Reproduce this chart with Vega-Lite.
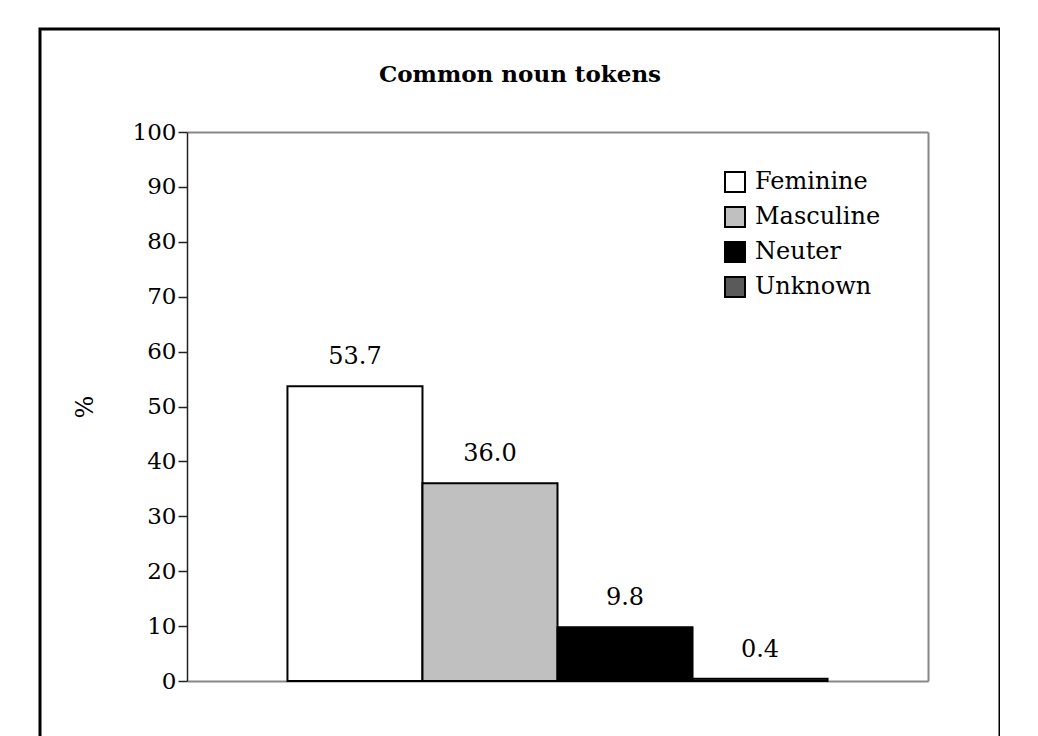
{
  "$schema": "https://vega.github.io/schema/vega-lite/v6.json",
  "width": 960,
  "height": 720,
  "autosize": {"type": "none"},
  "padding": {"left": 40, "top": 29, "right": 0, "bottom": 0},
  "background": "white",
  "config": {"view": {"stroke": "black", "strokeWidth": 3}, "font": "DejaVu Serif"},
  "title": {"text": "Common noun tokens", "font": "DejaVu Serif", "fontSize": 23, "fontWeight": "bold", "anchor": "middle", "offset": -58, "color": "black"},
  "data": {"values": [
    {"gender": "Feminine", "pct": 53.7},
    {"gender": "Masculine", "pct": 36.0},
    {"gender": "Neuter", "pct": 9.8},
    {"gender": "Unknown", "pct": 0.4}
  ]},
  "resolve": {"axis": {"x": "independent", "y": "independent"}},
  "layer": [
    {
      "mark": {"type": "bar", "stroke": "black", "strokeWidth": 2, "opacity": 1},
      "encoding": {
        "x": {"field": "gender", "type": "nominal", "sort": null,
          "scale": {"range": [147, 888], "paddingInner": 0, "paddingOuter": 0.744},
          "axis": {"orient": "bottom", "offset": -68, "labels": false, "ticks": false, "title": null, "domainColor": "#888888", "domainWidth": 2, "grid": false}},
        "y": {"field": "pct", "type": "quantitative",
          "scale": {"domain": [0, 100], "range": [652, 103], "nice": false},
          "axis": {"orient": "left", "offset": -147, "values": [0, 10, 20, 30, 40, 50, 60, 70, 80, 90, 100], "grid": false,
            "domainColor": "#222222", "domainWidth": 1.5, "tickColor": "#222222", "tickWidth": 1.5, "tickSize": 9,
            "labelFont": "DejaVu Serif", "labelFontSize": 23, "labelColor": "black", "labelPadding": 2,
            "title": "%", "titleFont": "DejaVu Serif", "titleFontSize": 24, "titleFontWeight": "normal", "titleColor": "black", "titlePadding": 35}},
        "color": {"field": "gender", "type": "nominal", "sort": null,
          "scale": {"domain": ["Feminine", "Masculine", "Neuter", "Unknown"],
            "range": ["#ffffff", "#c0c0c0", "#000000", "#5a5a5a"]},
          "legend": {"orient": "none", "legendX": 683, "legendY": 141, "title": null,
            "labelFont": "DejaVu Serif", "labelFontSize": 24, "labelColor": "black", "labelOffset": 8,
            "symbolType": "square", "symbolSize": 400, "symbolStrokeColor": "black", "symbolStrokeWidth": 2, "symbolOpacity": 1, "rowPadding": 7,
            "encode": {"symbols": {"update": {
              "stroke": {"value": "black"},
              "strokeWidth": {"value": 2}}}}}}
      }
    },
    {
      "mark": {"type": "text", "baseline": "alphabetic", "dy": -22, "fontSize": 24, "font": "DejaVu Serif", "color": "black"},
      "encoding": {
        "x": {"field": "gender", "type": "nominal", "sort": null,
          "axis": {"orient": "top", "offset": -103, "labels": false, "ticks": false, "title": null, "domainColor": "#888888", "domainWidth": 2, "grid": false}},
        "y": {"field": "pct", "type": "quantitative",
          "axis": {"orient": "right", "offset": -72, "labels": false, "ticks": false, "title": null, "domainColor": "#888888", "domainWidth": 2, "grid": false}},
        "text": {"field": "pct", "type": "quantitative", "format": ".1f"}
      }
    }
  ]
}
